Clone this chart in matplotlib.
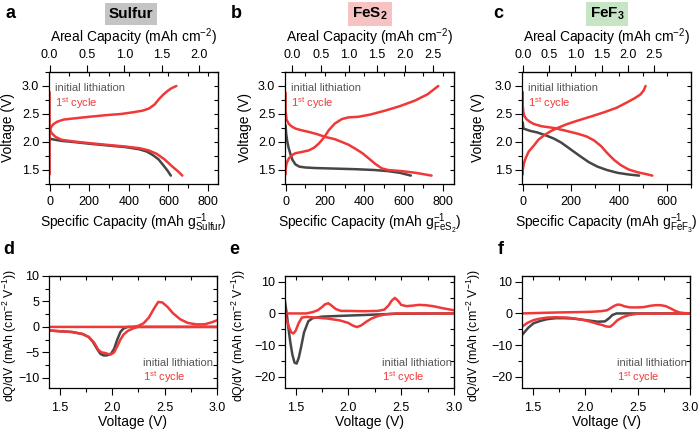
import numpy as np
import matplotlib
matplotlib.use('Agg')
from matplotlib import pyplot as plt
from matplotlib.ticker import MultipleLocator, FixedLocator, NullFormatter

plt.rcParams['font.family'] = ['Liberation Sans', 'DejaVu Sans']
plt.rcParams['mathtext.fontset'] = 'custom'
plt.rcParams['mathtext.rm'] = 'Liberation Sans'
plt.rcParams['mathtext.it'] = 'Liberation Sans:italic'
plt.rcParams['mathtext.bf'] = 'Liberation Sans:bold'
plt.rcParams['mathtext.default'] = 'regular'

GRAY = '#464646'
RED = '#f03838'
TXT_GRAY = '#555555'

# ---- voltage profiles (specific capacity mAh/g, voltage V) ----
# a: sulfur
a_gray_x = [0, 2, 12, 60, 120, 200, 287, 380, 453, 490, 520, 550, 575, 595, 612]
a_gray_y = [2.07, 2.06, 2.05, 2.02, 2.00, 1.97, 1.94, 1.91, 1.87, 1.83, 1.77, 1.69, 1.58, 1.49, 1.40]
a_chg_x = [0, 0, 3, 10, 20, 37, 70, 120, 200, 287, 360, 420, 470, 503, 530, 553, 575, 595, 615, 640]
a_chg_y = [1.42, 2.18, 2.22, 2.28, 2.32, 2.36, 2.40, 2.42, 2.45, 2.48, 2.50, 2.53, 2.56, 2.60, 2.67, 2.77, 2.85, 2.91, 2.96, 3.00]
a_dis_x = [0, 0, 3, 10, 30, 60, 120, 200, 287, 380, 453, 500, 540, 580, 620, 650, 670]
a_dis_y = [2.89, 2.26, 2.21, 2.16, 2.09, 2.04, 2.01, 1.98, 1.95, 1.92, 1.89, 1.85, 1.79, 1.69, 1.56, 1.47, 1.40]

# b: FeS2
b_gray_x = [0, 3, 8, 15, 25, 35, 50, 70, 100, 150, 250, 350, 450, 520, 580, 636]
b_gray_y = [2.30, 2.15, 2.02, 1.90, 1.78, 1.68, 1.60, 1.56, 1.545, 1.535, 1.525, 1.515, 1.50, 1.48, 1.45, 1.40]
b_chg_x = [0, 0, 5, 17, 35, 50, 80, 118, 145, 168, 195, 219, 250, 286, 320, 370, 430, 505, 580, 657, 720, 775]
b_chg_y = [1.42, 1.50, 1.62, 1.71, 1.77, 1.80, 1.82, 1.85, 1.90, 1.97, 2.08, 2.21, 2.33, 2.41, 2.44, 2.45, 2.49, 2.56, 2.64, 2.74, 2.85, 3.00]
b_dis_x = [0, 0, 5, 15, 30, 50, 80, 118, 160, 202, 250, 286, 320, 354, 390, 421, 455, 488, 520, 589, 660, 741]
b_dis_y = [2.88, 2.55, 2.40, 2.33, 2.28, 2.24, 2.21, 2.18, 2.14, 2.09, 2.05, 2.00, 1.95, 1.88, 1.80, 1.71, 1.61, 1.53, 1.50, 1.48, 1.45, 1.40]

# c: FeF3
c_gray_x = [0, 3, 30, 61, 95, 130, 160, 186, 215, 241, 275, 311, 350, 394, 440, 484]
c_gray_y = [2.35, 2.24, 2.20, 2.17, 2.12, 2.06, 1.99, 1.91, 1.82, 1.74, 1.64, 1.56, 1.50, 1.45, 1.42, 1.40]
c_chg_x = [0, 0, 5, 12, 25, 47, 65, 89, 115, 144, 185, 227, 280, 338, 390, 435, 465, 490, 503, 511]
c_chg_y = [1.42, 1.50, 1.62, 1.71, 1.83, 1.94, 2.04, 2.12, 2.19, 2.25, 2.32, 2.38, 2.45, 2.53, 2.61, 2.71, 2.78, 2.85, 2.92, 3.00]
c_dis_x = [0, 0, 3, 6, 15, 30, 47, 80, 130, 180, 227, 265, 296, 325, 352, 380, 407, 440, 477, 510, 539]
c_dis_y = [2.89, 2.65, 2.53, 2.47, 2.41, 2.36, 2.32, 2.28, 2.25, 2.20, 2.15, 2.10, 2.03, 1.93, 1.80, 1.68, 1.59, 1.51, 1.46, 1.43, 1.40]

# ---- dQ/dV (voltage V, mAh cm-2 V-1) ----
d_gray_v = [3.0, 2.15, 2.11, 2.08, 2.05, 2.02, 1.99, 1.95, 1.92, 1.89, 1.86, 1.82, 1.78, 1.72, 1.62, 1.5, 1.4]
d_gray_q = [0, 0, -0.3, -1.0, -2.5, -4.3, -5.3, -5.6, -5.6, -5.3, -4.4, -3.0, -2.0, -1.4, -1.0, -0.85, -0.7]
d_dis_v = [3.0, 2.25, 2.20, 2.15, 2.11, 2.08, 2.05, 2.02, 1.99, 1.96, 1.93, 1.90, 1.87, 1.83, 1.78, 1.72, 1.62, 1.5, 1.4]
d_dis_q = [0, 0, -0.3, -0.8, -1.5, -2.5, -3.8, -5.0, -5.4, -5.3, -5.1, -5.0, -4.5, -3.1, -2.0, -1.4, -1.0, -0.85, -0.7]
d_chg_v = [1.4, 2.2, 2.25, 2.3, 2.35, 2.4, 2.44, 2.48, 2.53, 2.58, 2.65, 2.72, 2.8, 2.88, 2.95, 3.0]
d_chg_q = [0, 0, 0.2, 0.7, 1.8, 3.6, 4.9, 4.8, 3.9, 2.7, 1.5, 0.8, 0.5, 0.5, 0.9, 1.3]

e_gray_v = [3.0, 2.45, 2.14, 1.9, 1.75, 1.66, 1.62, 1.58, 1.55, 1.53, 1.51, 1.49, 1.47, 1.45, 1.43, 1.42, 1.4]
e_gray_q = [0, -0.1, -0.5, -0.8, -1.0, -1.5, -2.5, -6.0, -11, -14, -15.8, -15.5, -13, -9, -4, -1, 3.8]
e_dis_v = [3.0, 2.45, 2.35, 2.28, 2.22, 2.17, 2.12, 2.08, 2.04, 2.0, 1.92, 1.8, 1.69, 1.6, 1.56, 1.53, 1.5, 1.48, 1.46, 1.44, 1.42, 1.4]
e_dis_q = [0, 0, -0.3, -0.8, -1.6, -2.6, -3.8, -4.3, -3.8, -3.0, -2.2, -1.6, -1.3, -1.1, -1.3, -3.0, -5.5, -6.3, -6.0, -4.5, -2.5, -0.5]
e_chg_v = [1.4, 1.6, 1.66, 1.71, 1.75, 1.78, 1.81, 1.84, 1.88, 1.93, 2.0, 2.14, 2.28, 2.34, 2.38, 2.41, 2.44, 2.47, 2.5, 2.55, 2.62, 2.67, 2.73, 2.8, 2.9, 3.0]
e_chg_q = [0, 0, 0.4, 1.0, 2.0, 2.9, 3.2, 2.5, 1.4, 0.8, 0.8, 0.7, 0.8, 1.2, 2.5, 4.0, 4.9, 4.0, 2.7, 2.3, 2.5, 2.7, 2.6, 2.3, 1.6, 1.0]

f_gray_v = [3.0, 2.3, 2.26, 2.23, 2.19, 2.12, 2.05, 1.96, 1.88, 1.8, 1.72, 1.64, 1.57, 1.51, 1.46, 1.4]
f_gray_q = [0, 0, -0.5, -1.5, -2.5, -2.6, -2.3, -1.9, -1.6, -1.5, -1.5, -1.8, -2.4, -3.1, -4.5, -6.8]
f_dis_v = [3.0, 2.5, 2.42, 2.36, 2.31, 2.27, 2.24, 2.2, 2.16, 2.12, 2.05, 1.99, 1.9, 1.83, 1.72, 1.64, 1.56, 1.51, 1.45, 1.4]
f_dis_q = [0, -0.1, -0.5, -1.2, -2.1, -3.4, -4.2, -4.1, -3.6, -3.3, -2.6, -2.1, -1.6, -1.3, -1.2, -1.3, -1.7, -2.1, -3.0, -4.2]
f_chg_v = [1.4, 1.73, 2.05, 2.15, 2.21, 2.25, 2.28, 2.31, 2.34, 2.38, 2.43, 2.5, 2.56, 2.62, 2.67, 2.72, 2.77, 2.82, 2.86, 2.9, 2.95, 3.0]
f_chg_q = [0, 0.3, 0.5, 0.7, 1.0, 1.8, 2.4, 2.8, 2.7, 2.2, 1.9, 1.9, 2.0, 2.4, 2.6, 2.6, 2.3, 1.5, 0.8, 0.3, 0.1, 0]

W, H = 700, 434


def rect(l, t, r, b):
    return [l / W, 1 - b / H, (r - l) / W, (b - t) / H]


def style_ticks(ax):
    ax.tick_params(which='both', direction='out', top=False, right=False, labelsize=9, width=0.8)
    ax.tick_params(which='major', length=5, pad=2)
    ax.tick_params(which='minor', length=3)
    for s in ax.spines.values():
        s.set_linewidth(0.9)


def mirror_y(ax, step):
    r = ax.secondary_yaxis('right')
    r.yaxis.set_major_locator(MultipleLocator(step))
    r.yaxis.set_major_formatter(NullFormatter())
    r.tick_params(direction='in', length=3, width=0.8)


def voltage_panel(box, gray, chg, dis, xmax, sub, factor, offset, areal, yl_x):
    ax = fig.add_axes(rect(*box))
    ax.plot(gray[0], gray[1], color=GRAY, lw=1.8, solid_capstyle='round')
    ax.plot(chg[0], chg[1], color=RED, lw=1.8, solid_capstyle='round')
    ax.plot(dis[0], dis[1], color=RED, lw=1.8, solid_capstyle='round')
    ax.set_xlim(-3, xmax)
    ax.set_ylim(1.25, 3.25)
    ax.xaxis.set_major_locator(FixedLocator(np.arange(0, xmax, 200)))
    ax.xaxis.set_minor_locator(MultipleLocator(100))
    ax.yaxis.set_major_locator(MultipleLocator(0.5))
    ax.yaxis.set_minor_locator(MultipleLocator(0.25))
    style_ticks(ax)
    ax.tick_params(axis='x', which='major', pad=4)
    ax.set_ylabel('Voltage (V)', fontsize=10)
    ax.yaxis.set_label_coords(yl_x, 0.5)
    ax.set_xlabel('Specific Capacity (mAh g$^{-1}_{%s}$)' % sub, fontsize=10, labelpad=2)
    top = ax.secondary_xaxis('top', functions=(lambda s: (s - offset) / factor,
                                               lambda a: a * factor + offset))
    top.xaxis.set_major_locator(FixedLocator(areal))
    top.xaxis.set_major_formatter(matplotlib.ticker.FormatStrFormatter('%.1f'))
    top.xaxis.set_minor_locator(FixedLocator([(s - offset) / factor for s in np.arange(100, xmax, 100)]))
    top.tick_params(which='major', direction='out', length=5, labelsize=9, pad=3, width=0.8)
    top.tick_params(which='minor', direction='in', length=3, width=0.8)
    top.set_xlabel('Areal Capacity (mAh cm$^{-2}$)', fontsize=10, labelpad=5)
    mirror_y(ax, 0.25)
    ax.text(0.035, 0.86, 'initial lithiation', color=TXT_GRAY, fontsize=8, va='center', transform=ax.transAxes)
    ax.text(0.035, 0.72, '1$^{st}$ cycle', color=RED, fontsize=8, va='center', transform=ax.transAxes)
    return ax


def dqdv_panel(box, gray, chg, dis, ylim, major, minor, yl_x, tx):
    ax = fig.add_axes(rect(*box))
    ax.plot(gray[0], gray[1], color=GRAY, lw=1.8)
    ax.plot(chg[0], chg[1], color=RED, lw=1.8)
    ax.plot(dis[0], dis[1], color=RED, lw=1.8)
    ax.set_xlim(1.4, 3.0)
    ax.set_ylim(*ylim)
    ax.xaxis.set_major_locator(MultipleLocator(0.5))
    ax.xaxis.set_minor_locator(MultipleLocator(0.25))
    ax.yaxis.set_major_locator(MultipleLocator(major))
    ax.yaxis.set_minor_locator(MultipleLocator(minor))
    style_ticks(ax)
    ax.tick_params(axis='x', which='major', pad=5)
    ax.set_xlabel('Voltage (V)', fontsize=10, labelpad=1)
    ax.set_ylabel('dQ/dV (mAh (cm$^{-2}$ V$^{-1}$))', fontsize=8.8)
    ax.yaxis.set_label_coords(yl_x, 0.47)
    t = ax.secondary_xaxis('top')
    t.xaxis.set_major_locator(MultipleLocator(0.25))
    t.xaxis.set_major_formatter(NullFormatter())
    t.tick_params(direction='in', length=3, width=0.8)
    mirror_y(ax, minor)
    ax.text(tx, 0.225, 'initial lithiation', color=TXT_GRAY, fontsize=8, va='center', transform=ax.transAxes)
    ax.text(tx, 0.10, '1$^{st}$ cycle', color=RED, fontsize=8, va='center', transform=ax.transAxes)
    return ax


fig = plt.figure(figsize=(7, 4.34), dpi=100)

voltage_panel((49, 72, 218, 184), (a_gray_x, a_gray_y), (a_chg_x, a_chg_y), (a_dis_x, a_dis_y),
              850, r'\mathrm{Sulfur}', 378, 0, [0, 0.5, 1.0, 1.5, 2.0], -0.20)
voltage_panel((285, 72, 454, 184), (b_gray_x, b_gray_y), (b_chg_x, b_chg_y), (b_dis_x, b_dis_y),
              855, r'\mathrm{FeS_2}', 286, 35, [0, 0.5, 1.0, 1.5, 2.0, 2.5], -0.195)
voltage_panel((522, 72, 691, 184), (c_gray_x, c_gray_y), (c_chg_x, c_chg_y), (c_dis_x, c_dis_y),
              700, r'\mathrm{FeF_3}', 219, 0, [0, 0.5, 1.0, 1.5, 2.0, 2.5], -0.22)

dqdv_panel((49, 276, 217, 388), (d_gray_v, d_gray_q), (d_chg_v, d_chg_q), (d_dis_v, d_dis_q),
           (-12, 10), 5, 2.5, -0.18, 0.56)
dqdv_panel((285, 276, 454, 388), (e_gray_v, e_gray_q), (e_chg_v, e_chg_q), (e_dis_v, e_dis_q),
           (-23.5, 11.8), 10, 5, -0.22, 0.572)
dqdv_panel((522, 276, 690, 388), (f_gray_v, f_gray_q), (f_chg_v, f_chg_q), (f_dis_v, f_dis_q),
           (-23.5, 11.8), 10, 5, -0.235, 0.567)

# panel letters
for lbl, x, y in [('a', 10, 14), ('b', 236, 14), ('c', 498, 14), ('d', 9, 250), ('e', 234, 250), ('f', 501, 250)]:
    fig.text(x / W, 1 - y / H, lbl, fontsize=13, fontweight='bold', ha='center', va='center')

# material titles
for lbl, x, bg in [('Sulfur', 131, '#c4c4c4'), ('FeS$_2$', 370, '#f6c2c2'), ('FeF$_3$', 607, '#c7e5c5')]:
    fig.text(x / W, 1 - 14 / H, lbl, fontsize=11, fontweight='bold', ha='center', va='center',
             bbox=dict(boxstyle='square,pad=0.25', fc=bg, ec='none'))

fig.savefig('out.png', dpi=100)
